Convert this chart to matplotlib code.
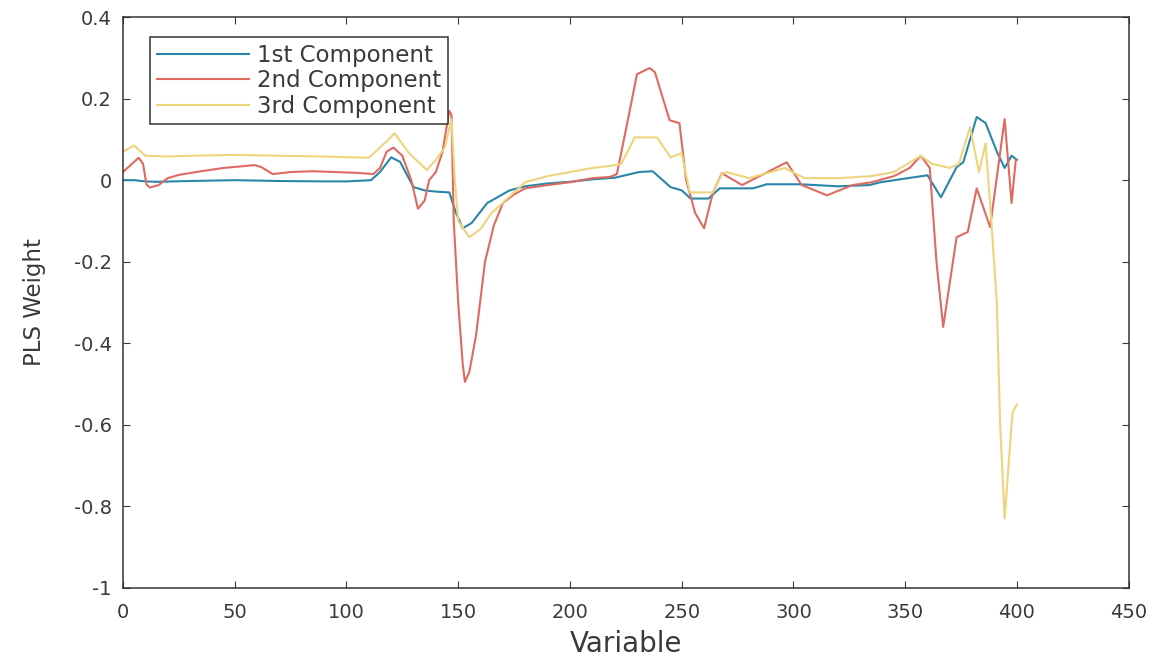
import matplotlib
matplotlib.use("Agg")
import matplotlib.pyplot as plt

# ---- data ----
comp1_x = [0, 5, 10, 15, 30, 50, 70, 90, 100, 111, 115, 120, 124, 130, 135, 140, 146, 149, 152, 156, 163, 173, 180, 190, 200, 210, 220, 231, 237, 245, 250, 254, 262, 267, 282, 288, 303, 320, 334, 339, 350, 360, 366, 373, 376, 382, 386, 391, 394.5, 397.6, 400]
comp1_y = [0.0, 0.0, -0.003, -0.004, -0.002, 0.0, -0.002, -0.003, -0.003, 0.0, 0.02, 0.056, 0.045, -0.017, -0.025, -0.028, -0.03, -0.08, -0.118, -0.105, -0.056, -0.025, -0.015, -0.008, -0.004, 0.002, 0.006, 0.02, 0.022, -0.017, -0.025, -0.045, -0.045, -0.02, -0.02, -0.01, -0.01, -0.015, -0.012, -0.005, 0.004, 0.012, -0.042, 0.032, 0.044, 0.155, 0.14, 0.07, 0.03, 0.06, 0.05]

comp2_x = [0, 3, 7, 9, 10.5, 12, 16, 20, 25, 35, 45, 59, 62, 67, 75, 85, 95, 105, 112, 115, 118, 121, 125, 129, 132, 135, 137, 140, 143, 146, 147, 148, 150, 152, 153, 155, 158, 162, 166, 170, 175, 180, 190, 200, 210, 218, 221, 226, 230, 235.7, 238, 244.6, 249, 252, 256, 260, 264, 268, 277, 297, 303.7, 315, 326.5, 335, 345, 352, 357, 361, 364, 367, 370, 373, 378, 382, 388, 394.5, 397.6, 399.5]
comp2_y = [0.02, 0.035, 0.055, 0.04, -0.01, -0.018, -0.012, 0.005, 0.013, 0.022, 0.03, 0.037, 0.032, 0.015, 0.02, 0.022, 0.02, 0.018, 0.015, 0.03, 0.07, 0.08, 0.06, 0.0, -0.07, -0.05, 0.0, 0.02, 0.07, 0.17, 0.16, -0.1, -0.3, -0.45, -0.495, -0.47, -0.38, -0.2, -0.11, -0.056, -0.035, -0.02, -0.012, -0.005, 0.005, 0.008, 0.015, 0.15, 0.26, 0.275, 0.265, 0.147, 0.14, 0.0, -0.08, -0.118, -0.03, 0.017, -0.012, 0.044, -0.012, -0.037, -0.012, -0.005, 0.01, 0.03, 0.06, 0.03, -0.2, -0.36, -0.25, -0.14, -0.127, -0.02, -0.115, 0.15, -0.056, 0.05]

comp3_x = [0, 5, 10, 20, 30, 50, 70, 90, 110, 115, 121.6, 128, 136, 140, 144, 147, 148.5, 150, 155, 160, 165, 175, 180, 190, 200, 210, 218, 223, 229, 239, 245, 250, 253.6, 264, 268, 270, 280, 290, 296, 305, 320, 335, 345, 357, 362, 370, 374, 379, 383, 386, 388.6, 391, 392.5, 394.5, 398, 400]
comp3_y = [0.07, 0.085, 0.06, 0.058, 0.06, 0.062, 0.06, 0.058, 0.055, 0.08, 0.115, 0.066, 0.025, 0.05, 0.08, 0.15, 0.0, -0.1, -0.14, -0.12, -0.08, -0.03, -0.005, 0.01, 0.02, 0.03, 0.035, 0.04, 0.105, 0.105, 0.056, 0.066, -0.03, -0.03, 0.015, 0.02, 0.005, 0.02, 0.03, 0.005, 0.005, 0.01, 0.02, 0.06, 0.04, 0.03, 0.04, 0.13, 0.02, 0.09, -0.105, -0.3, -0.6, -0.83, -0.57, -0.55]

series_labels = ["1st Component", "2nd Component", "3rd Component"]
x_ticks = [0, 50, 100, 150, 200, 250, 300, 350, 400, 450]
y_ticks = [-1, -0.8, -0.6, -0.4, -0.2, 0, 0.2, 0.4]
y_tick_labels = ["-1", "-0.8", "-0.6", "-0.4", "-0.2", "0", "0.2", "0.4"]

colors = ["#2a86a8", "#de6a60", "#eed47c"]
txt = "#3a3a3a"

fig = plt.figure(figsize=(11.6, 6.59), dpi=100)
ax = fig.add_axes([0.106, 0.108, 0.867, 0.866])

for xs, ys, c, lab in zip([comp1_x, comp2_x, comp3_x], [comp1_y, comp2_y, comp3_y], colors, series_labels):
    ax.plot(xs, ys, color=c, lw=1.5, label=lab)

ax.set_xlim(0, 450)
ax.set_ylim(-1, 0.4)
ax.set_xticks(x_ticks)
ax.set_xticklabels([str(t) for t in x_ticks])
ax.set_yticks(y_ticks)
ax.set_yticklabels(y_tick_labels)
ax.tick_params(direction="in", top=True, right=True, length=5, width=0.8,
               labelsize=14, colors=txt)
ax.tick_params(axis="x", pad=11)
ax.tick_params(axis="y", pad=8)
for sp in ax.spines.values():
    sp.set_color("#333333")
    sp.set_linewidth(1.1)

ax.set_xlabel("Variable", fontsize=20, color=txt, labelpad=6)
ax.set_ylabel("PLS Weight", fontsize=16.5, color=txt, labelpad=20)

leg = ax.legend(loc="upper left", bbox_to_anchor=(0.027, 0.965), borderaxespad=0,
                fontsize=16.5, handlelength=4.0, handletextpad=0.35, borderpad=0.3,
                labelspacing=0.1, fancybox=False, framealpha=1, labelcolor=txt)
leg.get_frame().set_edgecolor("#333333")
leg.get_frame().set_linewidth(1.1)

fig.savefig("out.png", dpi=100)
